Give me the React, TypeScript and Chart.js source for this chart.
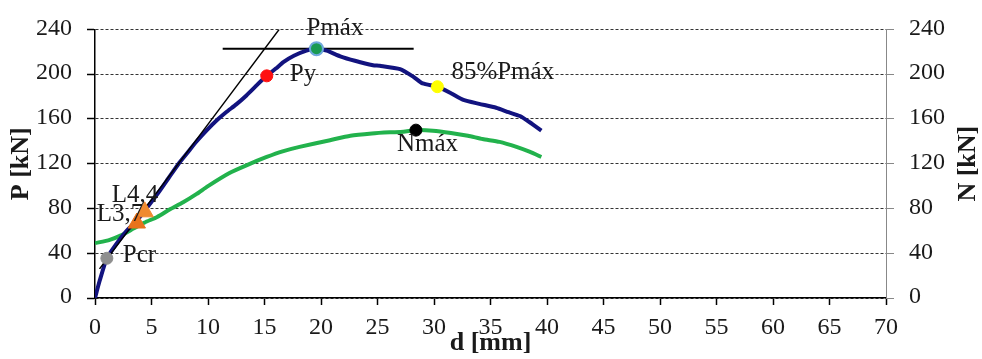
import { useEffect, useRef } from 'react';
import { Chart, registerables } from 'chart.js';

Chart.register(...registerables);

// P–d curve (blue, left axis)
const pD = [0, 0.4, 1.05, 1.8, 2.8, 3.7, 4.4, 5.6, 6.5, 7.4, 8.2, 9, 9.9, 10.8, 11.6, 12.5, 13.4, 14.3, 15.2, 16, 16.7, 17.6, 18.7, 19.5, 20.5, 21.7, 23, 24.6, 25.2, 27, 28.2, 29, 30.3, 31.5, 32.6, 34, 35.5, 36.6, 37.6, 38.5, 39.5];
const pP = [0, 15, 35.5, 47, 60, 69, 78, 94, 107, 120, 130, 140, 150, 159, 166, 173, 181, 190, 198.5, 205, 211, 216.5, 221, 223, 221, 216, 212, 208, 207.5, 204.5, 197.5, 191.7, 188.8, 183, 177, 173.5, 170, 166, 162.6, 156.8, 149.5];

// N–d curve (green, right axis)
const nD = [0, 1.3, 2.3, 3.4, 4.4, 5.5, 6.6, 7.8, 9, 10, 11.9, 13.5, 15.2, 16.6, 18.1, 20.8, 22.6, 24.5, 26.1, 27.3, 28.4, 29.9, 31.5, 33, 34.3, 35.8, 37.3, 38.5, 39.5];
const nN = [49, 52, 56, 62, 67.5, 72.4, 79, 85.5, 93, 100, 111.7, 119, 126, 131, 135, 141, 145, 147, 148, 148.5, 150, 149.5, 147.5, 145, 142, 139.5, 135, 130.5, 126];

// Reference lines
const tangentD = [0.4, 16.3];
const tangentP = [26, 240];
const pmaxLineD = [11.3, 28.2];
const pmaxLineP = [222.8, 222.8];

// Marked points
const pointNames = ['Pcr', 'Py', 'Pmáx', '85%Pmáx', 'Nmáx', 'L3,7', 'L4,4'];
const pointD = [1.05, 15.2, 19.6, 30.3, 28.4, 3.7, 4.4];
const pointV = [35.5, 198.5, 222.8, 188.8, 150, 67, 77];

const xTicks = [0, 5, 10, 15, 20, 25, 30, 35, 40, 45, 50, 55, 60, 65, 70];
const yTicks = [0, 40, 80, 120, 160, 200, 240];

const FONT = "'Liberation Serif', 'Times New Roman', serif";
const TXT = '#1a1a1a';

const pointStyles: Record<string, any> = {
  'Pcr': { bg: '#8f8f8f', border: '#8f8f8f', r: 6, style: 'circle', bw: 1, axis: 'y', dx: 16, dy: -3 },
  'Py': { bg: '#ff1010', border: '#ff1010', r: 6, style: 'circle', bw: 1, axis: 'y', dx: 23, dy: -1 },
  'Pmáx': { bg: '#1a9a52', border: '#6fa8dc', r: 6.5, style: 'circle', bw: 2, axis: 'y', dx: -10, dy: -20 },
  '85%Pmáx': { bg: '#ffff00', border: '#ffff00', r: 6, style: 'circle', bw: 1, axis: 'y', dx: 14, dy: -14 },
  'Nmáx': { bg: '#000000', border: '#000000', r: 6, style: 'circle', bw: 1, axis: 'y2', dx: -19, dy: 14 },
  'L3,7': { bg: '#e8731c', border: '#e8731c', r: 10, style: 'triangle', bw: 1, axis: 'y', dx: -40, dy: -9 },
  'L4,4': { bg: '#f08a30', border: '#f08a30', r: 10, style: 'triangle', bw: 1, axis: 'y', dx: -33, dy: -16 },
};

const labelPlugin = {
  id: 'pointLabels',
  afterDatasetsDraw(chart: any) {
    const ctx = chart.ctx;
    const xs = chart.scales.x;
    ctx.save();
    ctx.font = `25px ${FONT}`;
    ctx.fillStyle = TXT;
    ctx.textBaseline = 'middle';
    ctx.textAlign = 'left';
    pointNames.forEach((name, i) => {
      const st = pointStyles[name];
      const ys = chart.scales[st.axis];
      const px = xs.getPixelForValue(pointD[i]);
      const py = ys.getPixelForValue(pointV[i]);
      ctx.fillText(name, px + st.dx, py + st.dy);
    });
    // right axis title, reading bottom-to-top
    const r = chart.scales.y2;
    ctx.font = `bold 26px ${FONT}`;
    ctx.translate(r.right - 14, (r.top + r.bottom) / 2);
    ctx.rotate(-Math.PI / 2);
    ctx.textAlign = 'center';
    ctx.fillText('N [kN]', 0, 0);
    ctx.restore();
  },
};

export default function App() {
  const ref = useRef<HTMLCanvasElement | null>(null);

  useEffect(() => {
    if (!ref.current) return;
    const toXY = (xs: number[], ys: number[]) => xs.map((x, i) => ({ x, y: ys[i] }));

    const markerSets = pointNames.map((name, i) => {
      const st = pointStyles[name];
      return {
        type: 'scatter' as const,
        label: name,
        data: [{ x: pointD[i], y: pointV[i] }],
        yAxisID: st.axis,
        backgroundColor: st.bg,
        borderColor: st.border,
        borderWidth: st.bw,
        pointRadius: st.r,
        pointStyle: st.style,
        order: 0,
      };
    });

    const chart = new Chart(ref.current, {
      type: 'line',
      data: {
        datasets: [
          ...markerSets,
          {
            label: 'tangent',
            data: toXY(tangentD, tangentP),
            yAxisID: 'y',
            borderColor: '#000',
            borderWidth: 1.5,
            pointRadius: 0,
            order: 1,
          },
          {
            label: 'Pmax line',
            data: toXY(pmaxLineD, pmaxLineP),
            yAxisID: 'y',
            borderColor: '#000',
            borderWidth: 2,
            pointRadius: 0,
            order: 3,
          },
          {
            label: 'P',
            data: toXY(pD, pP),
            yAxisID: 'y',
            borderColor: '#12137f',
            borderWidth: 4,
            pointRadius: 0,
            tension: 0.2,
            order: 2,
          },
          {
            label: 'N',
            data: toXY(nD, nN),
            yAxisID: 'y2',
            borderColor: '#22b24c',
            borderWidth: 4,
            pointRadius: 0,
            tension: 0.2,
            order: 4,
          },
        ] as any,
      },
      options: {
        animation: false,
        responsive: false,
        devicePixelRatio: 1,
        layout: { padding: { top: 23, left: 0, right: 0, bottom: 0 } },
        plugins: { legend: { display: false }, tooltip: { enabled: false } },
        scales: {
          x: {
            type: 'linear',
            min: 0,
            max: 70,
            afterBuildTicks: (s: any) => { s.ticks = xTicks.map((v) => ({ value: v })); },
            afterFit: (s: any) => { s.height = 61; },
            ticks: { font: { family: FONT, size: 24 }, color: TXT, padding: 8, maxRotation: 0, autoSkip: false },
            grid: { drawOnChartArea: false, drawTicks: true, tickLength: 7, tickColor: '#000', tickWidth: 1.5 },
            border: { color: '#000', width: 1.5 },
            title: { display: true, text: 'd [mm]', color: TXT, font: { family: FONT, size: 26, weight: 'bold' }, padding: { top: 0, bottom: 0 } },
          },
          y: {
            type: 'linear',
            position: 'left',
            min: 0,
            max: 240,
            afterBuildTicks: (s: any) => { s.ticks = yTicks.map((v) => ({ value: v })); },
            afterFit: (s: any) => { s.width = 95; },
            ticks: { font: { family: FONT, size: 24 }, color: TXT, padding: 15, labelOffset: -1 },
            grid: { color: '#333', lineWidth: 1, tickLength: 8, tickColor: '#000', tickWidth: 1.5 },
            border: { color: '#000', width: 1.5, dash: [3, 2] },
            title: { display: true, text: 'P [kN]', color: TXT, font: { family: FONT, size: 26, weight: 'bold' }, padding: { top: 6, bottom: 0 } },
          },
          y2: {
            type: 'linear',
            position: 'right',
            min: 0,
            max: 240,
            afterBuildTicks: (s: any) => { s.ticks = yTicks.map((v) => ({ value: v })); },
            afterFit: (s: any) => { s.width = 96; },
            ticks: { font: { family: FONT, size: 24 }, color: TXT, padding: 15, labelOffset: -1 },
            grid: { drawOnChartArea: false, tickLength: 8, tickColor: '#888', tickWidth: 1 },
            border: { color: '#888', width: 1 },
          },
        },
      } as any,
      plugins: [labelPlugin],
    });
    return () => chart.destroy();
  }, []);

  return (
    <div style={{ position: 'absolute', left: 0, top: 0, width: 982, height: 359, background: '#fff' }}>
      <canvas ref={ref} width={982} height={359} style={{ display: 'block', width: 982, height: 359 }} />
    </div>
  );
}
